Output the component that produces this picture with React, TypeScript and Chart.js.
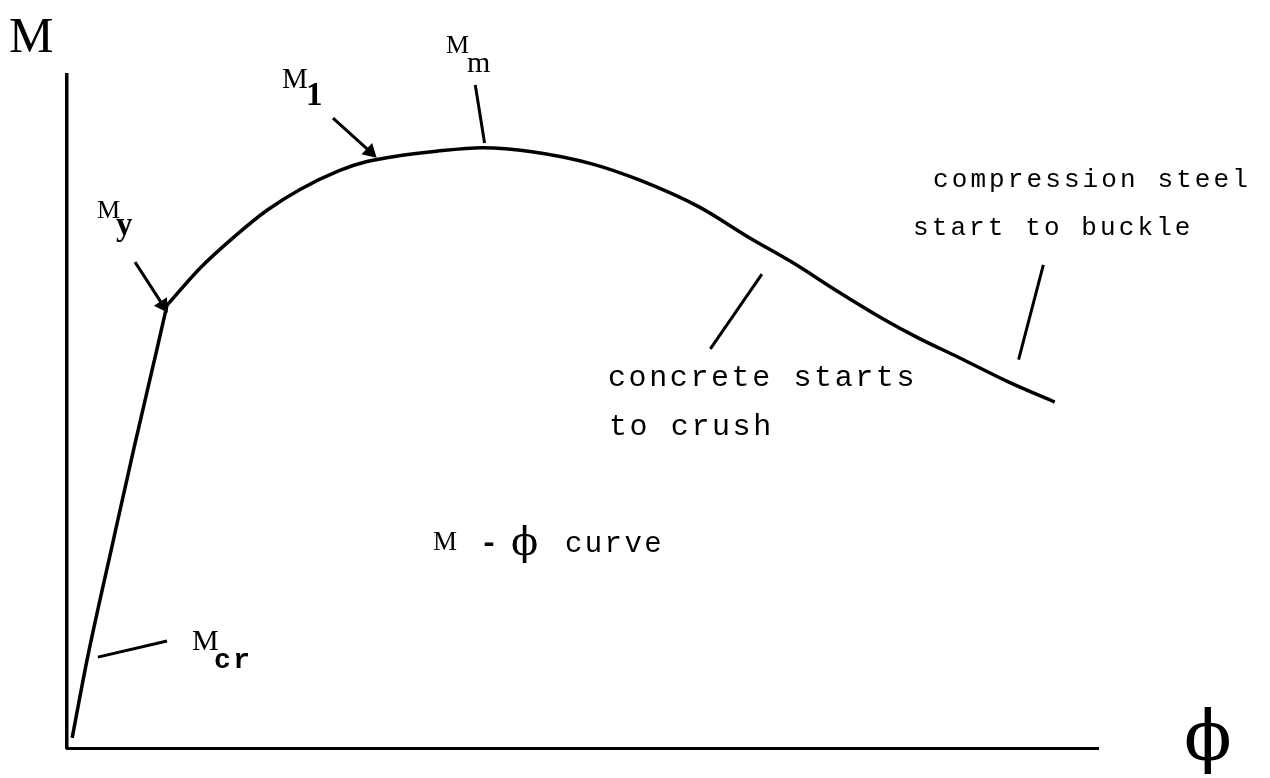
import React, { useEffect, useRef } from "react";
import { Chart, registerables } from "chart.js";

Chart.register(...registerables);

// M–φ curve, arbitrary units (φ: 0..100 along the axis, M: 0..100 up the axis)
// Elastic / cracked branch: origin to yield point My
const elasticPhi = [0.5, 2.0, 4.5, 6.5, 8.7, 9.7];
const elasticM = [1.5, 13.5, 30.9, 44.6, 59.1, 65.8];

// Post-yield branch: My -> M1 -> Mm -> softening
const plasticPhi = [9.7, 12.9, 16.1, 19.4, 22.6, 26.4, 29.0, 32.2, 35.4, 40.3, 45.1, 50.9, 55.5, 61.3, 66.1, 70.3, 74.8, 79.0, 82.6, 86.4, 91.3, 95.8];
const plasticM = [65.8, 71.3, 75.8, 79.9, 83.0, 85.8, 87.1, 88.0, 88.6, 89.2, 88.6, 86.8, 84.4, 80.4, 75.9, 72.2, 67.8, 63.9, 60.9, 58.1, 54.4, 51.4];

// Pointer lines (start, end)
const mcrPhi = [3.0, 9.7];
const mcrM = [13.5, 15.9];
const myPhi = [6.6, 9.3];
const myM = [72.2, 65.8];
const m1Phi = [25.8, 29.4];
const m1M = [93.6, 88.6];
const mmPhi = [39.6, 40.5];
const mmM = [98.5, 89.9];
const crushPhi = [62.4, 67.4];
const crushM = [59.3, 70.4];
const buckPhi = [92.3, 94.7];
const buckM = [57.7, 71.8];

const axisMin = 0;
const axisMax = 100;

const pts = (xs: number[], ys: number[]) => xs.map((x, i) => ({ x, y: ys[i] }));

type Lbl = { text: string; x: number; y: number; font: string; spacing?: number };

const labels: Lbl[] = [
  { text: "M", x: 9, y: 52, font: "50px 'Liberation Serif'" },
  { text: "M", x: 97, y: 218, font: "26px 'Liberation Serif'" },
  { text: "y", x: 116, y: 235, font: "bold 33px 'Liberation Serif'" },
  { text: "M", x: 282, y: 88, font: "29px 'Liberation Serif'" },
  { text: "1", x: 306, y: 105, font: "bold 33px 'Liberation Serif'" },
  { text: "M", x: 446, y: 53, font: "26px 'Liberation Serif'" },
  { text: "m", x: 467, y: 72, font: "30px 'Liberation Serif'" },
  { text: "M", x: 192, y: 650, font: "30px 'Liberation Serif'" },
  { text: "cr", x: 214, y: 668, font: "bold 28px 'Liberation Mono'", spacing: 2.5 },
  { text: "compression steel", x: 933, y: 187, font: "26px 'Liberation Mono'", spacing: 3.1 },
  { text: "start to buckle", x: 913, y: 235, font: "26px 'Liberation Mono'", spacing: 3.1 },
  { text: "concrete starts", x: 608, y: 386, font: "30px 'Liberation Mono'", spacing: 2.6 },
  { text: "to crush", x: 609, y: 435, font: "30px 'Liberation Mono'", spacing: 2.6 },
  { text: "M", x: 433, y: 550, font: "27px 'Liberation Serif'" },
  { text: "-", x: 480, y: 552, font: "bold 30px 'Liberation Mono'" },
  { text: "\u03D5", x: 511, y: 555, font: "40px 'DejaVu Serif'" },
  { text: "curve", x: 565, y: 552, font: "29px 'Liberation Mono'", spacing: 2.4 },
  { text: "\u03D5", x: 1184, y: 760, font: "70px 'DejaVu Serif'" },
];

const textPlugin = {
  id: "mphiText",
  afterDraw(chart: any) {
    const ctx = chart.ctx as CanvasRenderingContext2D;
    ctx.save();
    ctx.fillStyle = "#000";
    ctx.textBaseline = "alphabetic";
    ctx.textAlign = "left";
    for (const l of labels) {
      ctx.font = l.font;
      (ctx as any).letterSpacing = (l.spacing ?? 0) + "px";
      ctx.fillText(l.text, l.x, l.y);
    }
    ctx.restore();
  },
};

const pointer = (label: string, xs: number[], ys: number[], arrowRot: number | null) => ({
  label,
  data: pts(xs, ys),
  showLine: true,
  borderColor: "#000",
  backgroundColor: "#000",
  borderWidth: 3,
  pointRadius: arrowRot === null ? [0, 0] : [0, 6],
  pointStyle: "triangle",
  rotation: arrowRot === null ? 0 : arrowRot,
  tension: 0,
});

export default function App() {
  const ref = useRef<HTMLCanvasElement | null>(null);
  useEffect(() => {
    if (!ref.current) return;
    const chart = new Chart(ref.current, {
      type: "scatter",
      data: {
        datasets: [
          {
            label: "elastic",
            data: pts(elasticPhi, elasticM),
            showLine: true,
            borderColor: "#000",
            borderWidth: 3.5,
            pointRadius: 0,
            cubicInterpolationMode: "monotone",
          },
          {
            label: "post-yield",
            data: pts(plasticPhi, plasticM),
            showLine: true,
            borderColor: "#000",
            borderWidth: 3.5,
            pointRadius: 0,
            cubicInterpolationMode: "monotone",
          },
          pointer("Mcr", mcrPhi, mcrM, null),
          pointer("My", myPhi, myM, 147),
          pointer("M1", m1Phi, m1M, 133),
          pointer("Mm", mmPhi, mmM, null),
          pointer("crush", crushPhi, crushM, null),
          pointer("buckle", buckPhi, buckM, null),
        ] as any,
      },
      options: {
        animation: false,
        responsive: false,
        events: [],
        layout: { padding: { left: 67, top: 75, right: 172, bottom: 30 } },
        plugins: { legend: { display: false }, tooltip: { enabled: false }, title: { display: false } },
        scales: {
          x: {
            type: "linear",
            min: axisMin,
            max: axisMax,
            ticks: { display: false },
            grid: { display: false, drawTicks: false },
            border: { display: true, color: "#000", width: 3 },
          },
          y: {
            type: "linear",
            min: axisMin,
            max: axisMax,
            ticks: { display: false },
            grid: { display: false, drawTicks: false },
            border: { display: true, color: "#000", width: 3.5 },
          },
        },
      },
      plugins: [textPlugin],
    });
    return () => chart.destroy();
  }, []);
  return (
    <div style={{ position: "fixed", left: 0, top: 0, width: 1270, height: 778, background: "#fff" }}>
      <canvas ref={ref} width={1270} height={778} style={{ display: "block" }} />
    </div>
  );
}
